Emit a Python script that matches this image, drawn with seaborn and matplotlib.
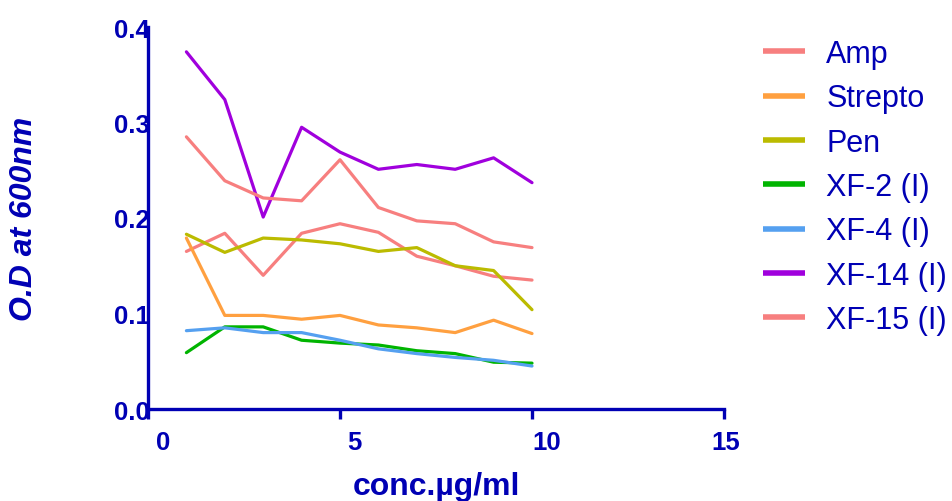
import matplotlib
matplotlib.use("Agg")
import matplotlib.pyplot as plt
import matplotlib.transforms as mtransforms
import seaborn as sns
import pandas as pd

conc = [1, 2, 3, 4, 5, 6, 7, 8, 9, 10]
amp = [0.165, 0.184, 0.140, 0.184, 0.194, 0.185, 0.160, 0.150, 0.139, 0.135]
strepto = [0.179, 0.098, 0.098, 0.094, 0.098, 0.088, 0.085, 0.080, 0.093, 0.079]
pen = [0.183, 0.164, 0.179, 0.177, 0.173, 0.165, 0.169, 0.150, 0.145, 0.104]
xf2 = [0.059, 0.086, 0.086, 0.072, 0.069, 0.067, 0.061, 0.058, 0.049, 0.048]
xf4 = [0.082, 0.085, 0.080, 0.080, 0.072, 0.063, 0.058, 0.054, 0.051, 0.045]
xf14 = [0.374, 0.324, 0.201, 0.295, 0.269, 0.251, 0.256, 0.251, 0.263, 0.237]
xf15 = [0.285, 0.239, 0.221, 0.218, 0.261, 0.211, 0.197, 0.194, 0.175, 0.169]

series_names = ["Amp", "Strepto", "Pen", "XF-2 (I)", "XF-4 (I)", "XF-14 (I)", "XF-15 (I)"]
series_values = [amp, strepto, pen, xf2, xf4, xf14, xf15]
series_colors = ["#F77F7F", "#FFA040", "#BBBB00", "#00B400", "#55A0F0", "#A000DD", "#F77F7F"]

x_ticks = [0, 5, 10, 15]
y_ticks = [0.0, 0.1, 0.2, 0.3, 0.4]
x_label = "conc.µg/ml"
y_label = "O.D at 600nm"

rows = []
for name, vals in zip(series_names, series_values):
    for c, v in zip(conc, vals):
        rows.append({"conc": c, "od": v, "series": name})
df = pd.DataFrame(rows)

sns.set_style("white")
plt.rcParams["font.family"] = ["Liberation Sans", "DejaVu Sans"]

blue = "#0000B4"

fig = plt.figure(figsize=(9.53, 5.02), dpi=100)
ax = fig.add_axes([148 / 953, 1 - 410 / 502, (724 - 148) / 953, (410 - 28) / 502])

sns.lineplot(data=df, x="conc", y="od", hue="series", hue_order=series_names,
             palette=dict(zip(series_names, series_colors)), linewidth=2.3,
             ax=ax, sort=False)

ax.set_xlim(0, 15)
ax.set_ylim(0, 0.4)
ax.set_xticks(x_ticks)
ax.set_xticklabels([str(t) for t in x_ticks])
ax.set_yticks(y_ticks)
ax.set_yticklabels([f"{t:.1f}" for t in y_ticks])

for s in ["top", "right"]:
    ax.spines[s].set_visible(False)
for s in ["left", "bottom"]:
    ax.spines[s].set_color(blue)
    ax.spines[s].set_linewidth(2.4)

ax.tick_params(axis="x", direction="out", length=7, width=2.4, color=blue,
               labelsize=18.5, labelcolor=blue, pad=8, bottom=True)
ax.tick_params(axis="y", length=0, labelsize=18.5, labelcolor=blue, pad=-1.5, left=True)
for lab in ax.get_xticklabels() + ax.get_yticklabels():
    lab.set_fontweight("bold")
for lab in ax.get_yticklabels():
    lab.set_zorder(5)

# shift x tick labels slightly right as in the reference
x_shifts_px = [15, 14, 15, 2]
for lab, dx in zip(ax.get_xticklabels(), x_shifts_px):
    lab.set_transform(lab.get_transform() + mtransforms.ScaledTranslation(dx / 100, 0, fig.dpi_scale_trans))

ax.set_xlabel(x_label, fontsize=23, fontweight="bold", color=blue, labelpad=12)
ax.set_ylabel(y_label, fontsize=23, fontweight="bold", style="italic", color=blue, labelpad=54)

handles, labels = ax.get_legend_handles_labels()
if ax.get_legend() is not None:
    ax.get_legend().remove()
leg = fig.legend(handles, labels, loc="upper left", bbox_to_anchor=(763 / 953, 1 - 40 / 502),
                 frameon=False, fontsize=22, handlelength=1.37, handletextpad=0.7,
                 labelspacing=0.47, borderpad=0, borderaxespad=0)
for t in leg.get_texts():
    t.set_color(blue)
for h in leg.get_lines():
    h.set_linewidth(4)
    h.set_solid_capstyle("butt")

fig.savefig("out.png", dpi=100)
